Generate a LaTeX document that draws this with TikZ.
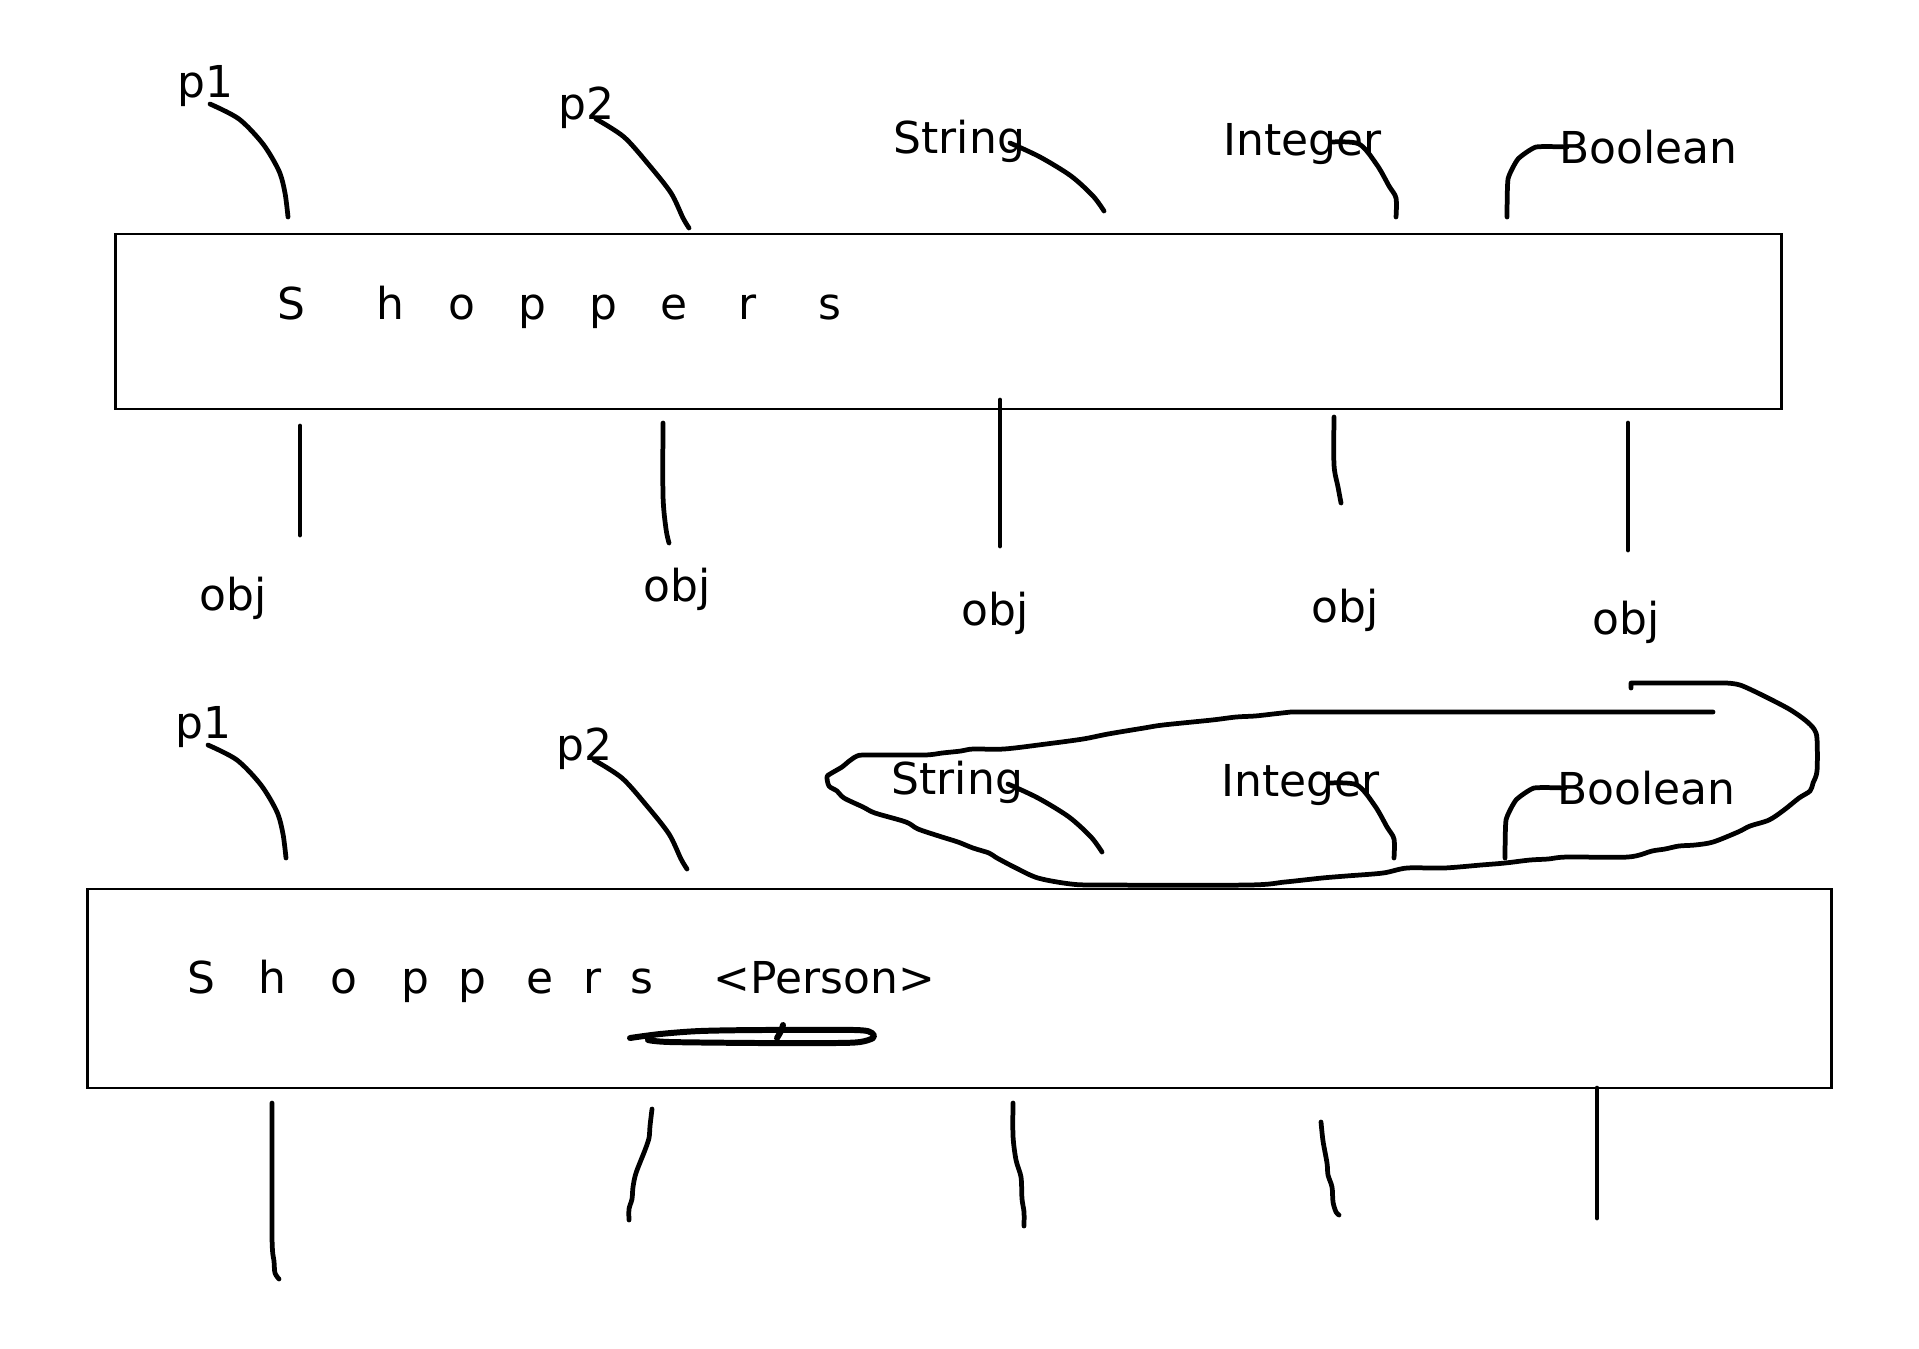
\documentclass[tikz,border=0pt]{standalone}
\usepackage{fontspec}
\setmainfont{DejaVu Sans}
\usetikzlibrary{positioning}
\tikzstyle{word}=[inner sep=0pt,anchor=base west,font=\fontsize{12.5}{15}\selectfont]
\tikzstyle{letter}=[inner sep=0pt,anchor=base,font=\fontsize{12.5}{15}\selectfont]
\tikzstyle{classbox}=[draw,line width=0.6pt,inner sep=0pt]
\tikzstyle{pen}=[line width=1.35pt,line cap=round,line join=round]
% one row of type labels with their strokes down to the box
\newcommand{\typeRow}[2]{%
  \begin{scope}[shift={(#2)}]
    \node[word](#1p1) at (177,97) {p1};
    \node[word](#1p2) at (558,119) {p2};
    \node[word](#1str) at (893,153) {String};
    \node[word](#1int) at (1223,155) {Integer};
    \node[word](#1bool) at (1559,163) {Boolean};
    \draw[pen] plot[smooth] coordinates {(210,104) (239,119) (263,144) (279,171) (285,193) (288,217)};
    \draw[pen] plot[smooth] coordinates {(596,119) (624,137) (649,165) (671,193) (683,218) (689,228)};
    \draw[pen] plot[smooth] coordinates {(1010,143) (1040,157) (1071,176) (1093,196) (1104,211)};
    \draw[pen] plot[smooth] coordinates {(1332,142) (1359,144) (1377,165) (1389,186) (1396,198) (1396,217)};
    \draw[pen] plot[smooth,tension=0.3] coordinates {(1567,147) (1536,147) (1518,159) (1508,179) (1507,217)};
  \end{scope}}

\begin{document}
\begin{tikzpicture}[x=0.01cm,y=-0.01cm]
  \fill[white] (0,0) rectangle (1919,1348);
  \useasboundingbox (0,0) rectangle (1919,1348);

  %top: plain Shoppers
  \node[classbox,minimum width=16.65cm,minimum height=1.75cm](shop1) at (948.5,321.5) {};
  \foreach \ch/\px [count=\i] in {S/291,h/390,o/462,p/532,p/603,e/674,r/748,s/830}
    \node[letter](t\i) at (\px,319) {\ch};
  \typeRow{a}{0,0}
  \draw[pen] (300,426) -- (300,535);
  \draw[pen] plot[smooth] coordinates {(663,423) (663,496) (666,529) (669,543)};
  \draw[pen] (1000,400) -- (1000,546);
  \draw[pen] plot[smooth] coordinates {(1334,417) (1334,465) (1338,487) (1341,503)};
  \draw[pen] (1628,423) -- (1628,550);
  \node[word](obj1) at (199,610) {obj};
  \node[word](obj2) at (643,601) {obj};
  \node[word](obj3) at (961,625) {obj};
  \node[word](obj4) at (1311,622) {obj};
  \node[word](obj5) at (1592,634) {obj};

  %bottom: Shoppers <Person>
  \node[classbox,minimum width=17.43cm,minimum height=1.99cm](shop2) at (959.5,988.5) {};
  \foreach \ch/\px [count=\i] in {S/201,h/272,o/344,p/415,p/472,e/540,r/593,s/642}
    \node[letter](b\i) at (\px,993) {\ch};
  \node[word](person) at (713,993) {<Person>};
  \typeRow{b}{-2,641}
  % the loop round String, Integer, Boolean
  \draw[pen] (1631,688) -- (1631,683) -- (1726,683)
    plot[smooth,tension=0.5] coordinates {(1726,683) (1740,685)
    (1762,695) (1789,709) (1805,720) (1814,729) (1817,739) (1817,771) (1813,783) (1810,791)
    (1799,798) (1784,810) (1769,820) (1750,826) (1738,832) (1713,842) (1695,845) (1679,846)
    (1665,849) (1652,851) (1628,857) (1567,857) (1548,859) (1530,860) (1505,863) (1481,865)
    (1444,868) (1407,868) (1383,873) (1346,876) (1322,878) (1285,882) (1248,885) (1102,885)
    (1071,884) (1038,878) (1016,868) (997,858) (989,853) (973,848) (958,842) (942,837)
    (918,829) (906,822) (875,813) (863,807) (844,798) (837,791) (829,786) (827,777)
    (830,774) (842,767) (848,762) (857,756) (867,755) (924,755) (942,753) (961,751)
    (973,749) (1004,749) (1046,744) (1083,739) (1108,734) (1144,728) (1163,725) (1212,720)
    (1236,717) (1255,716) (1273,714) (1291,712)} -- (1713,712);
  % scribble under <Person>
  \draw[pen,line width=1.7pt] plot[smooth,tension=0.5] coordinates {(630,1038) (660,1034) (700,1031)
    (760,1030) (855,1030) (872,1033) (873,1038) (860,1042) (835,1043) (760,1043) (670,1042) (648,1040)};
  \draw[pen,line width=1.7pt] plot[smooth] coordinates {(783,1025) (781,1031) (777,1038)};
  \draw[pen] plot[smooth] coordinates {(272,1103) (272,1236) (274,1261) (275,1273) (279,1279)};
  \draw[pen] plot[smooth] coordinates {(652,1109) (650,1126) (649,1138) (645,1150) (636,1173)
    (633,1187) (632,1199) (629,1209) (629,1220)};
  \draw[pen] plot[smooth] coordinates {(1013,1103) (1013,1136) (1016,1160) (1021,1177) (1022,1199)
    (1024,1212) (1024,1226)};
  \draw[pen] plot[smooth] coordinates {(1321,1122) (1323,1141) (1327,1163) (1328,1175) (1332,1187)
    (1333,1202) (1336,1212) (1339,1215)};
  \draw[pen] (1597,1088) -- (1597,1218);
\end{tikzpicture}
\end{document}
